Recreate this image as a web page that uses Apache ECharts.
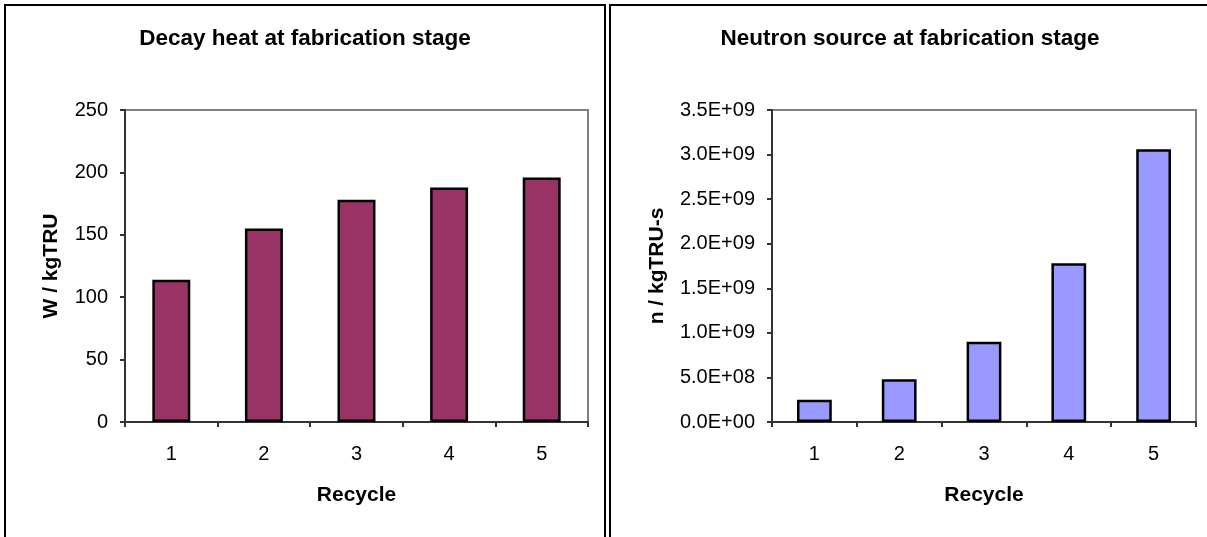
<!DOCTYPE html>
<html>
<head>
<meta charset="utf-8">
<title>Decay heat and neutron source at fabrication stage</title>
<script src="https://cdn.jsdelivr.net/npm/echarts@6/dist/echarts.min.js"></script>
<style>
  html, body { margin: 0; padding: 0; background: #ffffff; }
  #chart { width: 1207px; height: 537px; }
</style>
</head>
<body>
<div id="chart"></div>
<script>
// Recycle steps on the x axis
const recycles = ['1', '2', '3', '4', '5'];
// Decay heat per kg of transuranics (W / kgTRU)
const decayHeat = [114, 155, 178, 188, 196];
// Neutron source per kg of transuranics (n / kgTRU-s)
const neutronSource = [2.5e8, 4.8e8, 9.0e8, 1.78e9, 3.06e9];
// Axis tick settings
const heatTicks = { min: 0, max: 250, interval: 50 };
const neutronTicks = { min: 0, max: 3.5e9, interval: 5e8 };

const FONT = '"Liberation Sans", Arial, sans-serif';

// "3.5E+09" style scientific labels
function sciLabel(v) {
  const [m, e] = Number(v).toExponential(1).split('e');
  const sign = e[0] === '-' ? '-' : '+';
  const digits = e.replace(/[+-]/, '').padStart(2, '0');
  return m + 'E' + sign + digits;
}

function categoryAxis(gridIndex) {
  return {
    type: 'category',
    gridIndex,
    data: recycles,
    name: 'Recycle',
    nameLocation: 'middle',
    nameGap: 63,
    nameTextStyle: { fontFamily: FONT, fontWeight: 'bold', fontSize: 21, color: '#000' },
    axisLine: { lineStyle: { color: '#333', width: 2 } },
    axisTick: { show: true, alignWithLabel: false, length: 5, lineStyle: { color: '#333', width: 2 } },
    axisLabel: { fontFamily: FONT, fontSize: 20, color: '#000', margin: 22 },
    splitLine: { show: false }
  };
}

function valueAxis(gridIndex, ticks, name, nameGap, formatter) {
  return {
    type: 'value',
    gridIndex,
    min: ticks.min,
    max: ticks.max,
    interval: ticks.interval,
    name,
    nameLocation: 'middle',
    nameGap,
    nameRotate: 90,
    nameTextStyle: { fontFamily: FONT, fontWeight: 'bold', fontSize: 21, color: '#000' },
    axisLine: { show: true, lineStyle: { color: '#333', width: 2 } },
    axisTick: { show: true, length: 5, lineStyle: { color: '#333', width: 2 } },
    axisLabel: { fontFamily: FONT, fontSize: 20, color: '#000', margin: 17, formatter },
    splitLine: { show: false }
  };
}

const chart = echarts.init(document.getElementById('chart'), null, { renderer: 'canvas' });

chart.setOption({
  backgroundColor: '#ffffff',
  animation: false,
  title: [
    {
      text: 'Decay heat at fabrication stage',
      left: 300, top: 22, textAlign: 'center',
      textStyle: { fontFamily: FONT, fontWeight: 'bold', fontSize: 22.5, color: '#000' }
    },
    {
      text: 'Neutron source at fabrication stage',
      left: 905, top: 22, textAlign: 'center',
      textStyle: { fontFamily: FONT, fontWeight: 'bold', fontSize: 22.5, color: '#000' }
    }
  ],
  grid: [
    { left: 125, top: 110, width: 463, height: 312, show: true, borderColor: '#808080', borderWidth: 2, backgroundColor: 'transparent' },
    { left: 772, top: 110, width: 424, height: 312, show: true, borderColor: '#808080', borderWidth: 2, backgroundColor: 'transparent' }
  ],
  xAxis: [categoryAxis(0), categoryAxis(1)],
  yAxis: [
    valueAxis(0, heatTicks, 'W / kgTRU', 63, v => String(v)),
    valueAxis(1, neutronTicks, 'n / kgTRU-s', 104, sciLabel)
  ],
  series: [
    {
      type: 'bar',
      xAxisIndex: 0, yAxisIndex: 0,
      data: decayHeat,
      barWidth: '41%',
      itemStyle: { color: '#993366', borderColor: '#000', borderWidth: 2.5 }
    },
    {
      type: 'bar',
      xAxisIndex: 1, yAxisIndex: 1,
      data: neutronSource,
      barWidth: '41%',
      itemStyle: { color: '#9999FF', borderColor: '#000', borderWidth: 2.5 }
    }
  ],
  graphic: [
    {
      type: 'rect', silent: true,
      shape: { x: 5, y: 5, width: 600, height: 560 },
      style: { fill: 'none', stroke: '#000', lineWidth: 2 }
    },
    {
      type: 'rect', silent: true,
      shape: { x: 610, y: 5, width: 620, height: 560 },
      style: { fill: 'none', stroke: '#000', lineWidth: 2 }
    }
  ]
});
</script>
</body>
</html>
